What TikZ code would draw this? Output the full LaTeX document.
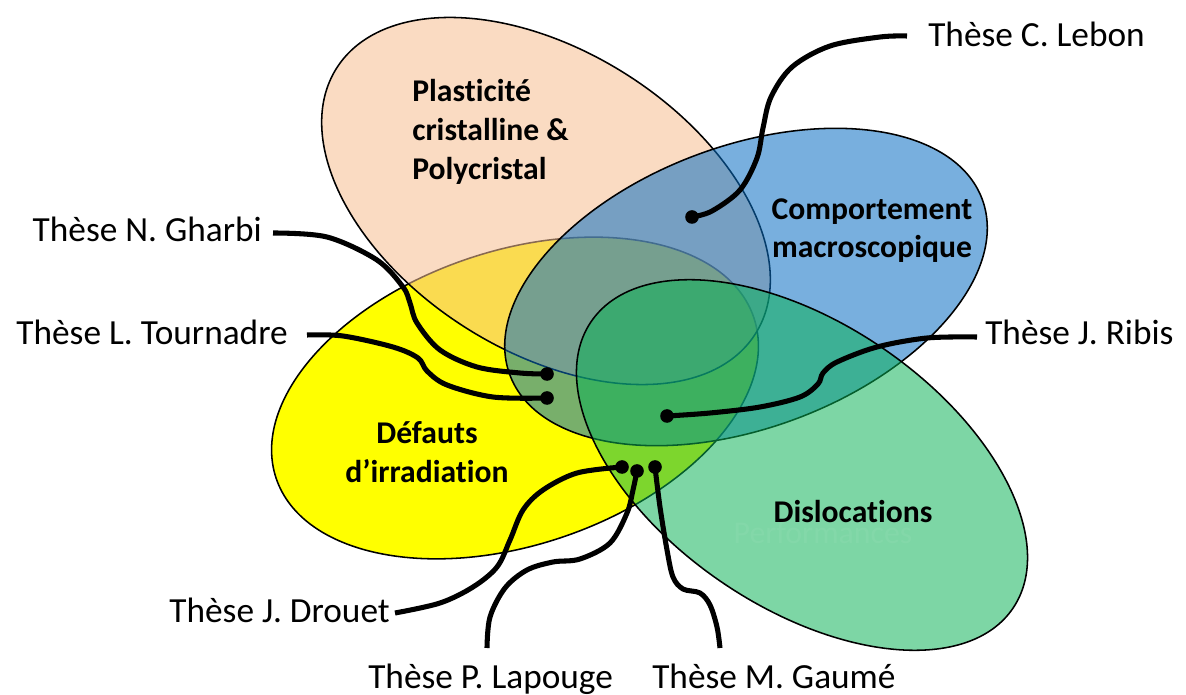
\documentclass[tikz,border=0pt]{standalone}
\usepackage{fontspec}
\setmainfont{Carlito}[Ligatures=NoCommon]
\definecolor{yellowc}{RGB}{255,255,0}
\definecolor{peachc}{RGB}{246,190,145}
\definecolor{bluec}{RGB}{10,111,195}
\definecolor{greenc}{RGB}{10,178,85}
\begin{document}
\begin{tikzpicture}[x=0.025cm,y=-0.025cm,
  blob/.style={draw=black, line width=1.1pt},
  conn/.style={line width=3.6pt, line join=round},
  dotmark/.style={circle, fill=black, inner sep=0pt, minimum size=0.34cm},
  thlabel/.style={inner sep=0pt, font=\fontsize{25.1}{30}\selectfont},
  topic/.style={inner sep=0pt, font=\fontsize{22.5}{27.7}\selectfont\bfseries}]
\useasboundingbox (0,0) rectangle (1186,695);
\fill[white] (0,0) rectangle (1186,695);
% ellipses (order matters for the blending)
\draw[blob, fill=yellowc] [rotate around={18.6:(515,398)}] (515,398) ellipse [x radius=252, y radius=147];
\draw[blob, fill=peachc, fill opacity=0.553] [rotate around={-32.4:(546,201)}] (546,201) ellipse [x radius=248, y radius=150];
\draw[blob, fill=bluec, fill opacity=0.55] [rotate around={20.4:(746,287)}] (746,287) ellipse [x radius=252, y radius=141];
\draw[blob, fill=greenc, fill opacity=0.53] [rotate around={-34.2:(802,465)}] (802,465) ellipse [x radius=255, y radius=142];
% topic labels
\node[topic, align=left, anchor=north west] (plast) at (412,79) {Plasticité\\cristalline \&\\Polycristal};
\node[topic, align=center, anchor=north] (macro) at (872,198) {Comportement\\macroscopique};
\node[topic, align=center, anchor=north] (defauts) at (427,421) {Défauts\\d’irradiation};
\node[topic, anchor=base] (disloc) at (853,523) {Dislocations};
\node[inner sep=0pt, anchor=base, font=\fontsize{22.6}{27}\selectfont, text=white, text opacity=0.05] (perf) at (823,543) {Performances};
% thesis labels
\node[thlabel, anchor=base west] (lebon) at (928,47) {Thèse C. Lebon};
\node[thlabel, anchor=base east] (gharbi) at (262,242) {Thèse N. Gharbi};
\node[thlabel, anchor=base east] (tournadre) at (288,345) {Thèse L. Tournadre};
\node[thlabel, anchor=base west] (ribis) at (985,345) {Thèse J. Ribis};
\node[thlabel, anchor=base east] (drouet) at (390,622) {Thèse J. Drouet};
\node[thlabel, anchor=base west] (lapouge) at (368,688) {Thèse P. Lapouge};
\node[thlabel, anchor=base west] (gaume) at (652,688) {Thèse M. Gaumé};
% dots
\node[dotmark] (dL) at (692,217) {};
\node[dotmark] (dG) at (547,374) {};
\node[dotmark] (dT) at (547,398) {};
\node[dotmark] (dR) at (667,416) {};
\node[dotmark] (dD) at (622,467) {};
\node[dotmark] (dP) at (637,471) {};
\node[dotmark] (dM) at (655,467) {};
% connectors
\draw[conn] plot[smooth, tension=0.55] coordinates {([shift={(-21,-11)}]lebon.base west) (880,37) (830,46) (792,67) (771,97) (763,128) (757,158) (740,190) (712,211) (dL.center)};
\draw[conn] plot[smooth, tension=0.55] coordinates {([shift={(11,-9)}]gharbi.base east) (327,237) (377,260) (403,287) (410,303) (417,323) (440,350) (477,367) (520,373) (dG.center)};
\draw[conn] plot[smooth, tension=0.55] coordinates {([shift={(19,-10)}]tournadre.base east) (343,336) (393,347) (418,358) (427,371) (447,385) (493,397) (dT.center)};
\draw[conn] plot[smooth, tension=0.55] coordinates {([shift={(-8,-8)}]ribis.base west) (927,338) (877,347) (837,362) (823,373) (818,384) (800,397) (760,407) (710,413) (dR.center)};
\draw[conn] plot[smooth, tension=0.55] coordinates {([shift={(5,-9)}]drouet.base east) (440,603) (473,587) (497,567) (510,540) (523,510) (543,490) (577,473) (dD.center)};
\draw[conn] plot[smooth, tension=0.55] coordinates {([shift={(119,-40)}]lapouge.base west) (490,617) (505,588) (527,570) (553,562) (580,559) (610,543) (627,513) (633,490) (dP.center)};
\draw[conn] plot[smooth, tension=0.55] coordinates {([shift={(68,-40)}]gaume.base west) (717,627) (710,605) (700,593) (683,589) (673,577) (667,550) (660,507) (dM.center)};
\end{tikzpicture}
\end{document}
